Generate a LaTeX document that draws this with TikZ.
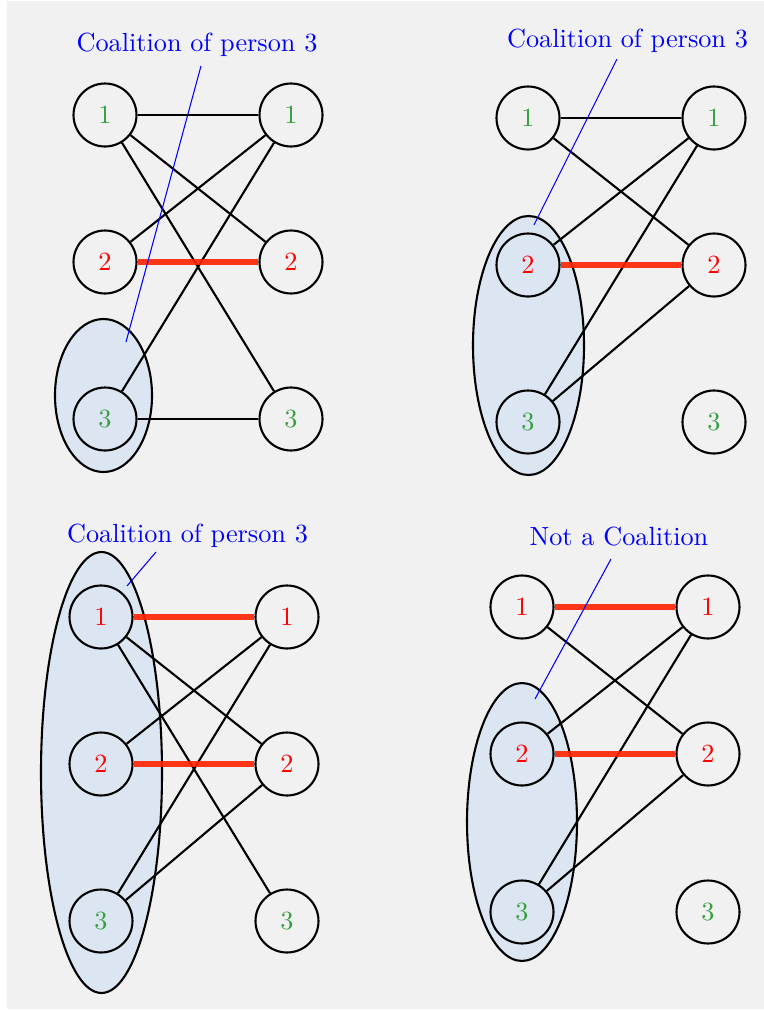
\documentclass[tikz,border=0pt]{standalone}
\usetikzlibrary{shapes.geometric}
\definecolor{bggray}{RGB}{241,241,241}
\definecolor{coalfill}{RGB}{220,230,242}
\definecolor{nodegreen}{RGB}{55,160,65}
\definecolor{edgered}{RGB}{255,34,0}
\tikzset{
  pn/.style={circle,draw,thick,minimum size=24pt,inner sep=0pt},
  gtext/.style={text=nodegreen},
  rtext/.style={text=red},
  coal/.style={ellipse,draw,thick,fill=coalfill,inner sep=0pt},
  edg/.style={thick,black},
  redg/.style={line width=2.5pt,draw=edgered,draw opacity=0.9},
  callout/.style={blue,line width=0.4pt},
  lbl/.style={text=blue,inner sep=1pt}
}
\begin{document}
\begin{tikzpicture}[x=0.381pt,y=-0.381pt]
\useasboundingbox (0,0) rectangle (764,1010);
\fill[bggray] (7,1) rectangle (764,1009);

% ---------- Top left ----------
\node[coal,minimum width=36.96pt,minimum height=58.29pt] (tl-e) at (103.5,395.5) {};
\node[pn,gtext] (tl-a1) at (105,115) {1};
\node[pn,rtext] (tl-a2) at (105,262) {2};
\node[pn,gtext] (tl-a3) at (105,419) {3};
\node[pn,gtext] (tl-b1) at (291,115) {1};
\node[pn,rtext] (tl-b2) at (291,262) {2};
\node[pn,gtext] (tl-b3) at (291,419) {3};
\draw[edg] (tl-a1) -- (tl-b1);
\draw[edg] (tl-a1) -- (tl-b2);
\draw[edg] (tl-a1) -- (tl-b3);
\draw[edg] (tl-a2) -- (tl-b1);
\draw[edg] (tl-a3) -- (tl-b1);
\draw[edg] (tl-a3) -- (tl-b3);
\draw[redg] (tl-a2) -- (tl-b2);
\node[lbl] (tl-lbl) at (197,45) {Coalition of person 3};
\coordinate (tl-c1) at (201,66);
\coordinate (tl-c2) at (126,342);
\draw[callout] (tl-c1) -- (tl-c2);

% ---------- Top right ----------
\node[coal,minimum width=42.29pt,minimum height=98.68pt] (tr-e) at (528.5,345.5) {};
\node[pn,gtext] (tr-a1) at (528,118) {1};
\node[pn,rtext] (tr-a2) at (528,265) {2};
\node[pn,gtext] (tr-a3) at (528,422) {3};
\node[pn,gtext] (tr-b1) at (714,118) {1};
\node[pn,rtext] (tr-b2) at (714,265) {2};
\node[pn,gtext] (tr-b3) at (714,422) {3};
\draw[edg] (tr-a1) -- (tr-b1);
\draw[edg] (tr-a1) -- (tr-b2);
\draw[edg] (tr-a2) -- (tr-b1);
\draw[edg] (tr-a3) -- (tr-b1);
\draw[edg] (tr-a3) -- (tr-b2);
\draw[redg] (tr-a2) -- (tr-b2);
\node[lbl] (tr-lbl) at (627.5,41) {Coalition of person 3};
\coordinate (tr-c1) at (617,59);
\coordinate (tr-c2) at (534,225);
\draw[callout] (tr-c1) -- (tr-c2);

% ---------- Bottom left ----------
\node[coal,minimum width=46.1pt,minimum height=168.0pt] (bl-e) at (101.5,772.5) {};
\node[pn,rtext] (bl-a1) at (101,617) {1};
\node[pn,rtext] (bl-a2) at (101,764) {2};
\node[pn,gtext] (bl-a3) at (101,921) {3};
\node[pn,rtext] (bl-b1) at (287,617) {1};
\node[pn,rtext] (bl-b2) at (287,764) {2};
\node[pn,gtext] (bl-b3) at (287,921) {3};
\draw[edg] (bl-a1) -- (bl-b2);
\draw[edg] (bl-a1) -- (bl-b3);
\draw[edg] (bl-a2) -- (bl-b1);
\draw[edg] (bl-a3) -- (bl-b1);
\draw[edg] (bl-a3) -- (bl-b2);
\draw[redg] (bl-a1) -- (bl-b1);
\draw[redg] (bl-a2) -- (bl-b2);
\node[lbl] (bl-lbl) at (187.5,536) {Coalition of person 3};
\coordinate (bl-c1) at (156,552);
\coordinate (bl-c2) at (127,586);
\draw[callout] (bl-c1) -- (bl-c2);

% ---------- Bottom right ----------
\node[coal,minimum width=41.9pt,minimum height=105.9pt] (br-e) at (522,822) {};
\node[pn,rtext] (br-a1) at (522,607) {1};
\node[pn,rtext] (br-a2) at (522,754) {2};
\node[pn,gtext] (br-a3) at (522,912) {3};
\node[pn,rtext] (br-b1) at (708,607) {1};
\node[pn,rtext] (br-b2) at (708,754) {2};
\node[pn,gtext] (br-b3) at (708,912) {3};
\draw[edg] (br-a1) -- (br-b2);
\draw[edg] (br-a2) -- (br-b1);
\draw[edg] (br-a3) -- (br-b1);
\draw[edg] (br-a3) -- (br-b2);
\draw[redg] (br-a1) -- (br-b1);
\draw[redg] (br-a2) -- (br-b2);
\node[lbl] (br-lbl) at (619,537) {Not a Coalition};
\coordinate (br-c1) at (611,559);
\coordinate (br-c2) at (535,699);
\draw[callout] (br-c1) -- (br-c2);
\end{tikzpicture}
\end{document}
